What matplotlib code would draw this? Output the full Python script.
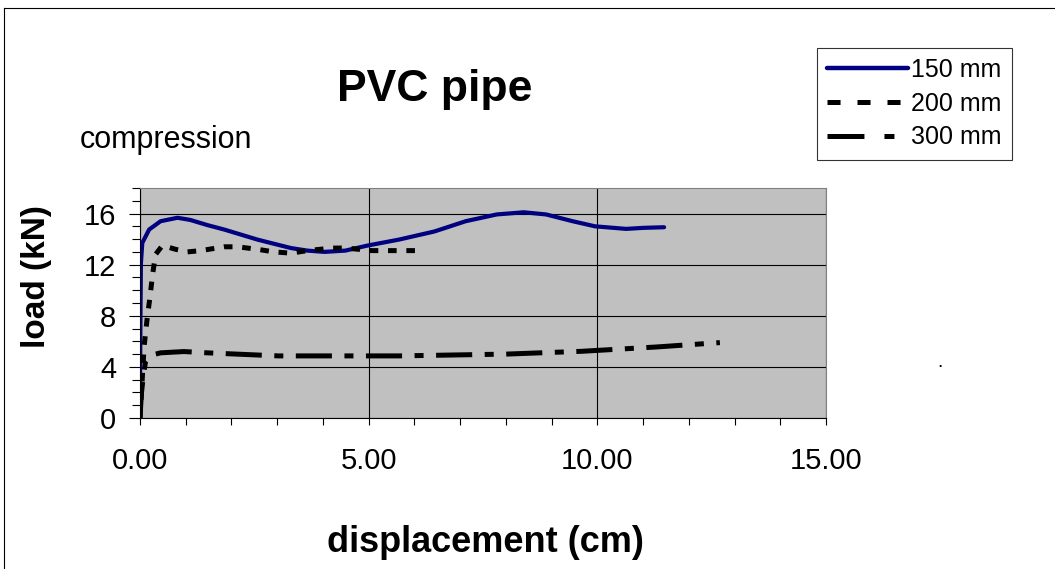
import matplotlib
matplotlib.use('Agg')
import matplotlib.pyplot as plt
from matplotlib.lines import Line2D
from matplotlib.ticker import MultipleLocator, FormatStrFormatter


# Load-displacement data for PVC pipe in compression, per pipe length
x150 = [0.0, 0.01, 0.02, 0.05, 0.2, 0.45, 0.82, 1.1, 1.47, 1.84, 2.57, 3.3, 3.66, 4.03,
        4.49, 4.98, 5.66, 6.44, 7.12, 7.8, 8.39, 8.88, 9.46, 9.95, 10.63, 11.0, 11.46]
y150 = [2.0, 8.0, 12.1, 13.7, 14.75, 15.4, 15.67, 15.5, 15.1, 14.75, 13.96, 13.3, 13.1, 13.0,
        13.1, 13.5, 13.96, 14.6, 15.4, 15.93, 16.1, 15.93, 15.4, 15.0, 14.8, 14.88, 14.93]

x200 = [0.0, 0.09, 0.16, 0.22, 0.27, 0.34, 0.49, 0.78, 1.04, 1.33, 1.84, 2.13, 2.57,
        2.93, 3.3, 3.66, 4.2, 4.5, 5.07, 5.5, 6.05]
y200 = [0.0, 5.6, 7.9, 9.5, 11.1, 12.8, 13.5, 13.2, 13.0, 13.1, 13.4, 13.4, 13.2,
        13.0, 12.9, 13.1, 13.3, 13.3, 13.1, 13.1, 13.1]

x300 = [0.0, 0.03, 0.07, 0.12, 0.23, 0.45, 0.96, 1.47, 3.02, 5.66, 8.0, 9.66, 11.3, 12.68]
y300 = [0.0, 1.9, 3.2, 4.4, 4.9, 5.1, 5.2, 5.1, 4.86, 4.86, 5.0, 5.22, 5.56, 5.9]

series_labels = ['150 mm', '200 mm', '300 mm']

plt.rcParams['font.family'] = ['Liberation Sans', 'DejaVu Sans']
plt.rcParams['lines.scale_dashes'] = False

W, H = 1055, 569
fig = plt.figure(figsize=(W / 100, H / 100), dpi=100)
fig.patch.set_facecolor('white')

# chart area border (runs off the right and bottom edges)
fig.add_artist(Line2D([3.5 / W, 1.0], [1 - 7.5 / H, 1 - 7.5 / H], color='black', lw=0.8))
fig.add_artist(Line2D([3.5 / W, 3.5 / W], [0.0, 1 - 7.5 / H], color='black', lw=0.8))

ax = fig.add_axes([140 / W, 1 - 418 / H, 686 / W, 230 / H])
ax.set_facecolor('#c0c0c0')

ax.plot(x150, y150, color='#000080', lw=3.0, solid_capstyle='round')
ax.plot(x200, y200, color='black', lw=3.6, dashes=(6.2, 7.0), dash_capstyle='butt')
ax.plot(x300, y300, color='black', lw=3.6, dashes=(26, 9, 6.5, 9), dash_capstyle='butt')

ax.set_xlim(0, 15)
ax.set_ylim(0, 18)
ax.xaxis.set_major_locator(MultipleLocator(5))
ax.xaxis.set_minor_locator(MultipleLocator(1))
ax.yaxis.set_major_locator(MultipleLocator(4))
ax.yaxis.set_minor_locator(MultipleLocator(1))
ax.xaxis.set_major_formatter(FormatStrFormatter('%.2f'))
ax.grid(True, which='major', color='black', lw=0.8)
ax.set_axisbelow(True)

ax.tick_params(axis='both', which='both', direction='out', width=0.8,
               labelsize=21, color='black')
ax.tick_params(axis='x', which='both', length=5, pad=16)
ax.tick_params(axis='y', which='major', length=8, pad=9)
ax.tick_params(axis='y', which='minor', length=6)

for side in ['left', 'bottom']:
    ax.spines[side].set_color('black')
    ax.spines[side].set_linewidth(0.8)
for side in ['top', 'right']:
    ax.spines[side].set_color('#808080')
    ax.spines[side].set_linewidth(0.8)

ax.set_xlabel('displacement (cm)', fontsize=26, fontweight='bold', va='center')
ax.xaxis.set_label_coords(0.504, -0.54)
ax.set_ylabel('load (kN)', fontsize=24, fontweight='bold', va='center')
ax.yaxis.set_label_coords(-0.151, 0.617)

fig.text(435 / W, 1 - 101 / H, 'PVC pipe', fontsize=32, fontweight='bold',
         ha='center', va='baseline')
fig.text(80 / W, 1 - 148 / H, 'compression', fontsize=22, ha='left', va='baseline')
fig.text(940 / W, 1 - 367 / H, '.', fontsize=14, ha='center', va='baseline')

handles = [
    Line2D([], [], color='#000080', lw=3.2, solid_capstyle='round'),
    Line2D([], [], color='black', lw=3.6, dashes=(9.4, 12.2), dash_capstyle='butt'),
    Line2D([], [], color='black', lw=3.6, dashes=(26.6, 14.4, 7.2, 14.4), dash_capstyle='butt'),
]
leg = fig.legend(handles, series_labels, loc='upper left',
                 bbox_to_anchor=(817 / W, 1 - 48 / H), bbox_transform=fig.transFigure,
                 fontsize=18, frameon=True, fancybox=False, shadow=False,
                 handlelength=3.24, handletextpad=0.12, labelspacing=0.39,
                 borderpad=0.4, borderaxespad=0.0)
leg.get_frame().set_edgecolor('black')
leg.get_frame().set_linewidth(0.8)

fig.savefig('out.png', dpi=100, facecolor='white')
